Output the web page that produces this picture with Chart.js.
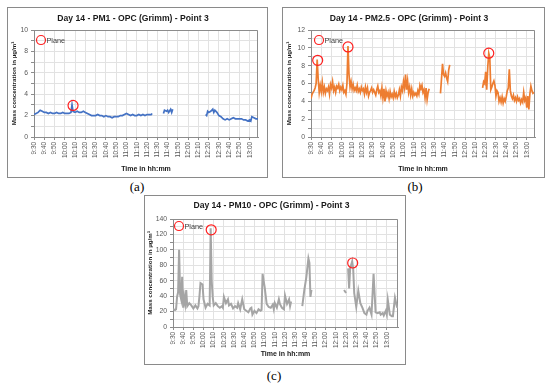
<!DOCTYPE html>
<html><head><meta charset="utf-8">
<script src="https://cdn.jsdelivr.net/npm/chart.js@4.4.0/dist/chart.umd.min.js"></script>
<style>
html,body{margin:0;padding:0;background:#fff}
body{width:550px;height:386px;position:relative;overflow:hidden;font-family:"Liberation Sans",Arial,sans-serif}
.panel{position:absolute;border:1px solid #8a8a8a;background:#fff}
.panel canvas{display:block}
.cap{position:absolute;font-family:"Liberation Serif","DejaVu Serif",serif;font-size:13px;color:#000;transform:translate(-50%,-50%);line-height:1}
</style></head><body>
<div class="panel" style="left:7px;top:7px;"><canvas id="ca" width="259" height="169"></canvas></div>
<div class="panel" style="left:282px;top:7px;"><canvas id="cb" width="261" height="169"></canvas></div>
<div class="panel" style="left:144px;top:195px;"><canvas id="cc" width="260" height="168"></canvas></div>
<div class="cap" style="left:137px;top:186px;">(a)</div>
<div class="cap" style="left:415px;top:186px;">(b)</div>
<div class="cap" style="left:274px;top:375px;">(c)</div>
<script>
// ---- data: x = minutes after 9:30, y = mass concentration (µg/m³); null = gap ----
const range = (a, b) => { const r = []; for (let i = a; i <= b; i++) r.push(i); return r; };

const pm1Times = [0,2,4,6,8,10,12,14,16,18,20,22,24,26,28,30,32,34,36,37,38,40,42,44,46,48,50,52,54,56,58,60,62,64,66,68,70,72,74,76,78,80,82,84,86,88,90,92,94,96,98,100,102,104,106,108,110,112,114,115,120,126,127,129,130,131,133,134,135,150,167,168,169,170,172,174,175,176,178,180,182,184,186,188,190,192,194,196,198,200,202,204,206,208,210,211,212,214,216,218];
const pm1Values = [2.1,2.2,2.3,2.5,2.4,2.3,2.3,2.2,2.3,2.2,2.2,2.3,2.2,2.2,2.3,2.2,2.2,2.2,2.3,3.0,2.4,
  2.3,2.4,2.3,2.3,2.4,2.3,2.2,2.1,2.0,2.0,2.0,2.1,2.0,2.0,1.9,2.0,1.9,1.9,1.8,1.9,1.9,1.9,2.0,2.0,2.1,2.2,2.1,2.0,2.1,2.0,2.0,2.1,2.0,2.1,2.0,2.1,2.1,2.1,
  2.2,null,2.2,2.5,2.4,2.5,2.3,2.6,2.3,2.6,null,
  2.1,2.0,2.4,2.3,2.4,2.6,2.3,2.5,2.3,2.0,1.9,1.7,1.6,1.7,1.6,1.7,1.8,1.7,1.7,1.7,1.7,1.6,1.6,1.5,1.6,1.5,1.9,1.8,1.7,1.7];
const pm1PlaneTimes = [38];
const pm1PlaneValues = [2.95];

const pm25Times = [...range(0,115), 120, ...range(126,135), 150, ...range(167,217)];
const pm25Values = [
  4.3,4.8,5.0,5.2,5.5,6.0,8.7,6.5,5.0,5.8,
  5.1,6.1,5.0,5.6,4.9,5.4,5.2,5.6,4.8,5.9,
  5.5,6.2,5.2,5.6,5.0,5.7,5.5,5.9,5.2,5.6,
  5.3,5.8,5.0,5.2,4.8,6.0,10.2,7.0,5.6,6.2,
  5.4,5.9,5.2,5.5,5.2,5.8,5.1,5.4,5.0,5.6,
  5.2,5.4,4.8,5.6,5.0,5.5,4.6,5.0,5.2,5.5,
  5.0,5.3,5.0,4.7,5.3,5.7,5.0,5.2,4.6,5.5,
  4.4,5.4,4.0,5.2,4.6,5.0,4.3,5.1,4.5,4.8,
  4.4,5.1,4.5,4.9,4.4,4.7,5.3,4.6,5.6,5.2,
  6.2,5.5,7.0,5.3,6.3,5.0,5.6,4.7,5.4,4.6,
  5.0,4.7,4.9,4.6,5.2,4.8,5.8,5.4,5.8,5.0,
  5.3,4.4,5.5,4.2,5.0,5.4,
  null,
  4.9,6.5,8.2,7.0,6.8,7.2,6.6,6.2,7.5,8.1,
  null,
  5.5,6.2,6.0,7.3,5.3,7.8,9.4,8.9,5.3,5.6,
  6.0,6.3,5.8,4.6,5.2,5.0,4.0,4.4,3.9,4.5,
  3.8,4.3,4.0,4.5,5.2,5.5,7.6,5.2,4.6,4.3,
  4.7,4.1,4.4,4.0,4.5,4.1,4.3,3.8,4.2,3.9,
  5.0,4.1,4.4,3.3,4.6,3.1,4.8,5.7,5.2,4.9,5.0];
const pm25PlaneTimes = [6.5, 36, 173];
const pm25PlaneValues = [8.6, 10.1, 9.4];

const pm10Times = [0,2,3,4,5,6,7,8,9,10,11,12,13,14,16,18,20,22,24,25,26,27,28,29,30,32,34,36,37,38,39,40,42,44,46,48,49,50,52,54,55,57,59,61,63,64,66,68,70,72,74,76,77,78,80,82,84,86,87,88,89,90,92,94,96,98,99,100,102,104,105,107,109,110,112,114,115,116,120,127,129,131,133,134,135,136,150,168,170,171,172,173,174,176,177,178,180,182,183,184,186,188,190,191,193,195,197,198,199,201,203,204,206,207,209,210,211,213,215,216,218,220,221];
const pm10Values = [23,22,23,39,45,100,42,36,65,25,39,30,48,27,31,28,24,28,24,27,40,57,56,55,36,25,30,28,128,60,39,28,31,27,25,27,25,39,31,36,28,30,24,27,25,31,23,36,23,21,19,24,25,16,21,18,23,21,22,69,60,52,30,26,25,29,23,31,25,36,30,25,23,41,30,36,27,33,null,27,48,65,89,83,39,48,null,48,44,null,76,50,76,85,75,44,26,47,39,31,25,18,16,21,25,16,69,44,19,18,19,16,18,15,21,16,35,16,14,14,38,26,25];
const pm10PlaneTimes = [37.5, 176.5];
const pm10PlaneValues = [126, 83];

const titles = ['Day 14 - PM1 - OPC (Grimm) - Point 3', 'Day 14 - PM2.5 - OPC (Grimm) - Point 3', 'Day 14 - PM10 - OPC (Grimm) - Point 3'];
const xTitle = 'Time in hh:mm';
const yTitle = 'Mass concentration in µg/m³';
const legendLabel = 'Plane';
const lastTick = 210; // 13:00

// ---- drawing ----
Chart.defaults.font.family = '"Liberation Sans", Arial, sans-serif';
const clock = v => { const tot = 570 + v; return Math.floor(tot / 60) + ':' + String(tot % 60).padStart(2, '0'); };

const framePlugin = {
  id: 'frame',
  beforeDatasetsDraw(chart) {
    const {ctx, chartArea: a} = chart;
    ctx.save();
    ctx.strokeStyle = '#8c8c8c'; ctx.lineWidth = 1;
    ctx.beginPath();
    const t = Math.round(a.top) + 0.5, r = Math.round(a.right) - 0.5;
    ctx.moveTo(Math.round(a.left), t); ctx.lineTo(r, t); ctx.lineTo(r, Math.round(a.bottom));
    ctx.stroke();
    ctx.restore();
  }
};

// legend drawn inside the plot area (top-left), from the marker dataset's own style
const innerLegend = {
  id: 'innerLegend',
  afterDatasetsDraw(chart, args, opts) {
    const ds = chart.data.datasets[1];
    const {ctx, chartArea: a} = chart;
    const cx = a.left + opts.dx, cy = a.top + opts.dy;
    ctx.save();
    ctx.strokeStyle = ds.borderColor; ctx.lineWidth = ds.borderWidth;
    ctx.beginPath(); ctx.arc(cx, cy, ds.pointRadius - 0.5, 0, Math.PI * 2); ctx.stroke();
    ctx.fillStyle = '#404040';
    ctx.font = '7.3px "Liberation Sans", Arial, sans-serif';
    ctx.textBaseline = 'middle'; ctx.textAlign = 'left';
    ctx.fillText(ds.label, cx + 5.5, cy + 0.5);
    ctx.restore();
  }
};

function build(id, times, values, pTimes, pValues, o) {
  const pts = times.map((t, i) => ({x: t, y: values[i]}));
  const planes = pTimes.map((t, i) => ({x: t, y: pValues[i]}));
  return new Chart(document.getElementById(id), {
    type: 'line',
    data: {datasets: [
      {label: 'series', data: pts, borderColor: o.color, borderWidth: o.lineW, pointRadius: 0, spanGaps: false, tension: 0, order: 2},
      {type: 'scatter', label: legendLabel, data: planes, showLine: false, pointStyle: 'circle', pointRadius: 5,
       borderColor: '#ff1f1f', backgroundColor: 'rgba(0,0,0,0)', borderWidth: 1.2, order: 1}
    ]},
    options: {
      responsive: false, animation: false, events: [],
      layout: {padding: {left: 0, right: o.padRight, top: 0, bottom: 0}},
      plugins: {
        title: {display: true, text: o.title, color: '#1a1a1a', font: {size: 8.6, weight: 'bold'}, padding: {top: o.titleTop, bottom: o.titleBottom}},
        legend: {display: false},
        tooltip: {enabled: false},
        innerLegend: {dx: o.legDx, dy: o.legDy}
      },
      scales: {
        x: {type: 'linear', min: 0, max: o.xMax,
          afterBuildTicks: s => { s.ticks = s.ticks.filter(t => t.value <= lastTick); },
          ticks: {stepSize: 10, includeBounds: false, autoSkip: false, minRotation: 90, maxRotation: 90,
                  callback: v => clock(v), color: '#595959', font: {size: 6.4}, padding: 2},
          grid: {color: '#e2e2e2', tickColor: '#8c8c8c', tickLength: 3},
          border: {color: '#8c8c8c'},
          title: {display: true, text: xTitle, color: '#1a1a1a', font: {size: 7, weight: 'bold'}, padding: {top: 0, bottom: o.xTitleBottom}},
          afterFit: s => { s.height = o.xH; }
        },
        y: {min: 0, max: o.yMax,
          ticks: {stepSize: o.yStep, autoSkip: false, callback: v => (v % o.yLabel === 0 ? v : ''), color: '#595959', font: {size: 6.8}, padding: 3},
          grid: {color: '#e2e2e2', tickColor: '#8c8c8c', tickLength: 3},
          border: {color: '#8c8c8c'},
          title: {display: true, text: yTitle, color: '#1a1a1a', font: {size: 6.2, weight: 'bold'}, padding: {top: o.yTitleTop, bottom: 0}},
          afterFit: s => { s.width = o.yW; }
        }
      }
    },
    plugins: [framePlugin, innerLegend]
  });
}

build('ca', pm1Times, pm1Values, pm1PlaneTimes, pm1PlaneValues,
  {color: '#4472C4', lineW: 1.7, title: titles[0], xMax: 218, yMax: 10, yStep: 1, yLabel: 2, padRight: 9, titleTop: 5, titleBottom: 6.7, xH: 40, xTitleBottom: 4, yW: 26, yTitleTop: 3, legDx: 7, legDy: 10});
build('cb', pm25Times, pm25Values, pm25PlaneTimes, pm25PlaneValues,
  {color: '#ED7D31', lineW: 1.7, title: titles[1], xMax: 218, yMax: 12, yStep: 1, yLabel: 2, padRight: 9, titleTop: 5, titleBottom: 6.7, xH: 40, xTitleBottom: 4, yW: 28, yTitleTop: 3, legDx: 8, legDy: 10});
build('cc', pm10Times, pm10Values, pm10PlaneTimes, pm10PlaneValues,
  {color: '#A5A5A5', lineW: 2, title: titles[2], xMax: 221, yMax: 140, yStep: 10, yLabel: 20, padRight: 7, titleTop: 4, titleBottom: 8.7, xH: 37, xTitleBottom: 6, yW: 28, yTitleTop: 2, legDx: 6, legDy: 7});
</script>
</body></html>
